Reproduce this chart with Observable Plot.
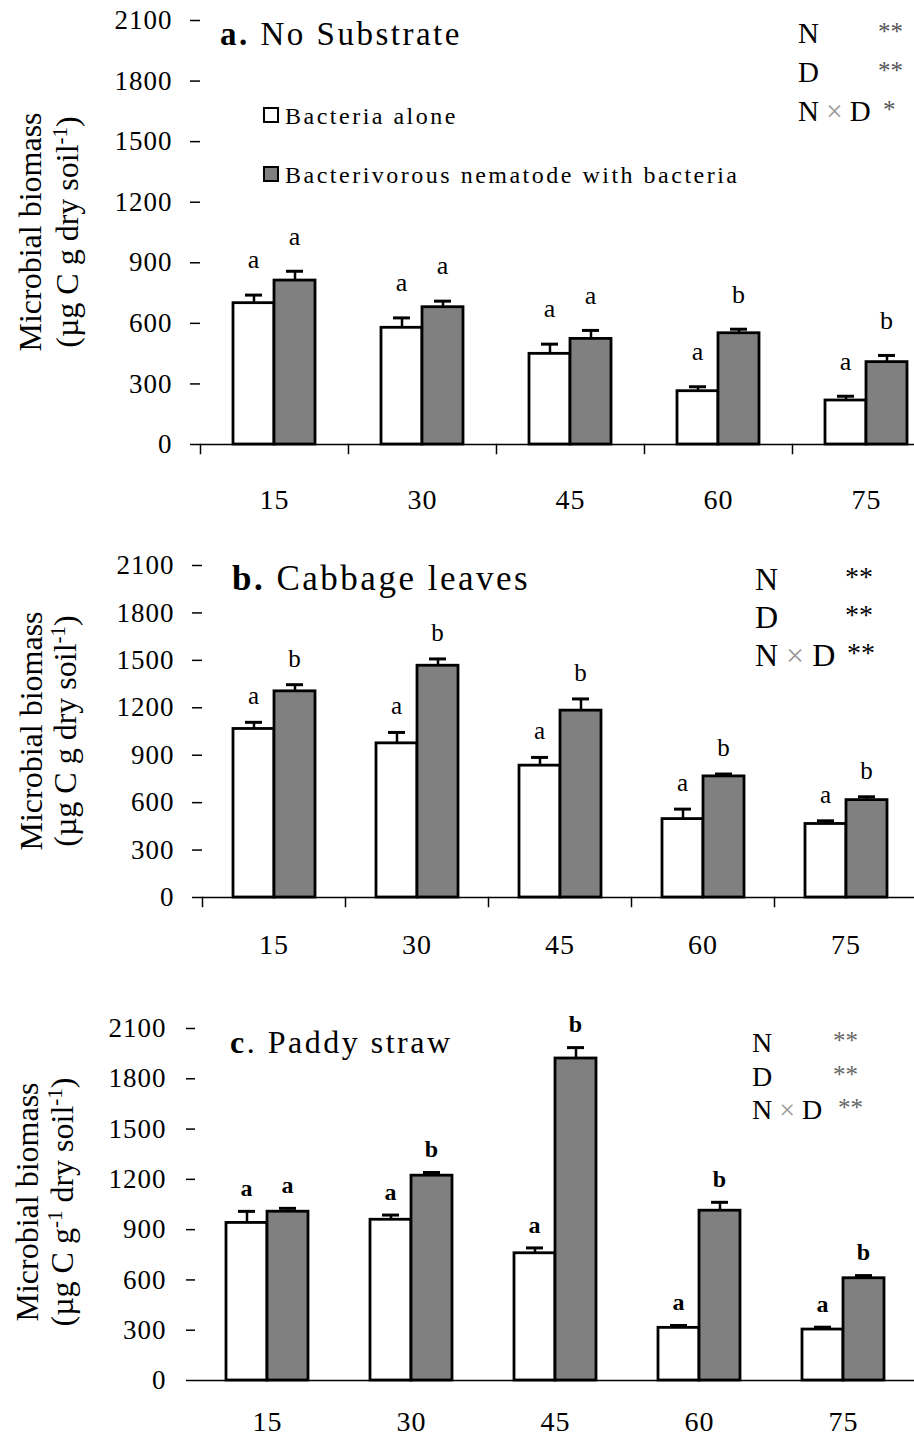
<!DOCTYPE html>
<html>
<head>
<meta charset="utf-8">
<script src="https://cdn.jsdelivr.net/npm/d3@7"></script>
<script src="https://cdn.jsdelivr.net/npm/@observablehq/plot@0.6"></script>
<style>
  html, body { margin: 0; padding: 0; background: #fff; }
  body { width: 914px; height: 1440px; position: relative; overflow: hidden; font-family: "Liberation Serif", "Times New Roman", serif; }
  .panel { position: absolute; left: 0; width: 914px; overflow: hidden; }
  .panel svg { max-width: none !important; display: block; }
</style>
</head>
<body>
<script>
// ---------- data ----------
const days = ["15", "30", "45", "60", "75"];
const seriesNames = ["Bacteria alone", "Bacterivorous nematode with bacteria"];
const seriesFill = ["#ffffff", "#808080"];
const yTicks = [0, 300, 600, 900, 1200, 1500, 1800, 2100];

// a. No Substrate
const aAlone = [700, 578, 449, 264, 218];
const aAloneErr = [40, 49, 48, 22, 21];
const aNema = [812, 680, 523, 551, 408];
const aNemaErr = [46, 30, 42, 20, 33];
const aAloneSig = ["a", "a", "a", "a", "a"];
const aNemaSig = ["a", "a", "a", "b", "b"];
const aTitle = ["a.", " No Substrate"];
const aStats = [["N", "**"], ["D", "**"], ["N × D", "*"]];

// b. Cabbage leaves
const bAlone = [1066, 975, 834, 496, 465];
const bAloneErr = [42, 69, 52, 63, 20];
const bNema = [1304, 1466, 1182, 766, 616];
const bNemaErr = [42, 43, 74, 15, 21];
const bAloneSig = ["a", "a", "a", "a", "a"];
const bNemaSig = ["b", "b", "b", "b", "b"];
const bTitle = ["b.", " Cabbage leaves"];
const bStats = [["N", "**"], ["D", "**"], ["N × D", "**"]];

// c. Paddy straw
const cAlone = [940, 959, 759, 314, 304];
const cAloneErr = [69, 28, 32, 14, 14];
const cNema = [1007, 1222, 1921, 1013, 610];
const cNemaErr = [20, 19, 65, 50, 16];
const cAloneSig = ["a", "a", "a", "a", "a"];
const cNemaSig = ["a", "b", "b", "b", "b"];
const cTitle = ["c", ". Paddy straw"];
const cStats = [["N", "**"], ["D", "**"], ["N × D", "**"]];

const yLine1 = "Microbial biomass";
const yLine2ab = [["(µg C g dry soil", false], ["-1", true], [")", false]];
const yLine2c = [["(µg C g", false], ["-1", true], [" dry soil", false], ["-1", true], [")", false]];

// ---------- plotting ----------
function buildRows(alone, aloneErr, aloneSig, nema, nemaErr, nemaSig) {
  const rows = [];
  days.forEach((d, i) => {
    rows.push({day: d, series: seriesNames[0], value: alone[i], err: aloneErr[i], sig: aloneSig[i]});
    rows.push({day: d, series: seriesNames[1], value: nema[i], err: nemaErr[i], sig: nemaSig[i]});
  });
  return rows;
}

function panel(p) {
  const rows = buildRows(p.alone, p.aloneErr, p.aloneSig, p.nema, p.nemaErr, p.nemaSig);
  const plotH = p.height - p.mt - p.mb;
  const marks = [
    Plot.ruleX(rows, {fx: "day", x: "series", y1: "value", y2: d => d.value + d.err, stroke: "#000", strokeWidth: 2.5}),
    Plot.tickY(rows, {fx: "day", x: "series", y: d => d.value + d.err, stroke: "#000", strokeWidth: 3, insetLeft: 12, insetRight: 12}),
    Plot.barY(rows, {fx: "day", x: "series", y: "value", fill: "series", stroke: "#000", strokeWidth: 2.8}),
    Plot.ruleY([0], {stroke: "#000", strokeWidth: 1.5}),
    Plot.axisY({ticks: yTicks, tickSize: p.tickSize, tickPadding: p.tickPad, strokeWidth: 1.5, line: true, label: null, fontSize: 27, tickFormat: d => String(d)}),
    Plot.text(days, {fx: d => d, text: d => d, frameAnchor: "bottom", lineAnchor: "top", dy: p.fxPad, fontSize: 28}),
    Plot.text(rows, {fx: "day", x: "series", y: d => d.value + d.err, text: "sig", dy: -p.sigOffset, fontSize: p.sigSize, fontWeight: p.sigWeight})
  ];
  if (p.boundaryTicks) {
    marks.push(Plot.frame({anchor: "left", insetTop: plotH, insetBottom: -9, stroke: "#000", strokeWidth: 1.5}));
  }
  const svg = Plot.plot({
    width: p.width,
    height: p.height,
    marginLeft: p.ml,
    marginRight: 0,
    marginTop: p.mt,
    marginBottom: p.mb,
    style: {fontFamily: "'Liberation Serif', 'Times New Roman', serif", fontSize: "27px", letterSpacing: "1px", color: "#000", background: "transparent", maxWidth: "none", overflow: "visible"},
    fx: {domain: days, padding: 0, label: null, axis: null},
    x: {domain: seriesNames, paddingInner: 0, paddingOuter: p.po, axis: null},
    y: {domain: [0, 2100], label: null},
    color: {domain: seriesNames, range: seriesFill},
    marks
  });
  const div = document.createElement("div");
  div.className = "panel";
  div.style.top = p.top + "px";
  div.style.height = p.divH + "px";
  div.appendChild(svg);
  document.body.appendChild(div);
}

panel({alone: aAlone, aloneErr: aAloneErr, aloneSig: aAloneSig, nema: aNema, nemaErr: aNemaErr, nemaSig: aNemaSig,
  top: 0, divH: 514, width: 940, height: 514, ml: 200, mt: 20, mb: 70, po: 0.8,
  tickSize: 10, tickPad: 18, fxPad: 45, sigOffset: 35, sigSize: 26, sigWeight: "normal", boundaryTicks: true});

panel({alone: bAlone, aloneErr: bAloneErr, aloneSig: bAloneSig, nema: bNema, nemaErr: bNemaErr, nemaSig: bNemaSig,
  top: 514, divH: 471, width: 918, height: 471, ml: 200, mt: 51, mb: 88, po: 0.73,
  tickSize: 10, tickPad: 18, fxPad: 37, sigOffset: 26, sigSize: 25, sigWeight: "normal", boundaryTicks: true});

panel({alone: cAlone, aloneErr: cAloneErr, aloneSig: cAloneSig, nema: cNema, nemaErr: cNemaErr, nemaSig: cNemaSig,
  top: 985, divH: 455, width: 915, height: 455, ml: 195, mt: 43, mb: 60, po: 0.73,
  tickSize: 9, tickPad: 20, fxPad: 31, sigOffset: 23, sigSize: 24, sigWeight: "bold", boundaryTicks: false});

// ---------- annotations (titles, legend, statistics, y titles) ----------
const ov = d3.select("body").append("svg")
  .attr("width", 914).attr("height", 1440)
  .style("position", "absolute").style("left", "0px").style("top", "0px")
  .style("pointer-events", "none")
  .attr("font-family", "'Liberation Serif', 'Times New Roman', serif")
  .style("white-space", "pre");

function title(x, y, size, parts) {
  const t = ov.append("text").attr("x", x).attr("y", y).attr("font-size", size).attr("letter-spacing", "2.5px");
  t.append("tspan").attr("font-weight", "bold").text(parts[0]);
  t.append("tspan").text(parts[1]);
}

function stats(rows, x, y0, step, size, starX, starSize, starFill, starDy) {
  rows.forEach((r, i) => {
    const t = ov.append("text").attr("x", x).attr("y", y0 + i * step).attr("font-size", size);
    const parts = r[0].split("×");
    if (parts.length > 1) {
      t.append("tspan").text(parts[0]);
      t.append("tspan").attr("fill", "#999").text("×");
      t.append("tspan").text(parts[1]);
    } else {
      t.text(r[0]);
    }
    ov.append("text").attr("x", starX[i]).attr("y", y0 + i * step + starDy)
      .attr("font-size", starSize).attr("fill", starFill).text(r[1]);
  });
}

function yTitle(cy, x1, x2, line2) {
  ov.append("text").attr("transform", `translate(${x1},${cy}) rotate(-90)`)
    .attr("text-anchor", "middle").attr("font-size", 32).text(yLine1);
  const t = ov.append("text").attr("transform", `translate(${x2},${cy}) rotate(-90)`)
    .attr("text-anchor", "middle").attr("font-size", 32);
  let raised = false;
  line2.forEach(([s, sup]) => {
    const sp = t.append("tspan").text(s);
    if (sup) {
      sp.attr("font-size", 21).attr("dy", raised ? 0 : -11);
      raised = true;
    } else {
      sp.attr("font-size", 32).attr("dy", raised ? 11 : 0);
      raised = false;
    }
  });
}

// panel a
title(220, 45, 33, aTitle);
stats(aStats, 798, 43, 39, 29, [878, 878, 883], 25, "#555", -3);
yTitle(232, 41, 78, yLine2ab);
// legend
const legendY = [108, 167];
seriesNames.forEach((name, i) => {
  ov.append("rect").attr("x", 264).attr("y", legendY[i]).attr("width", 14).attr("height", 14)
    .attr("fill", seriesFill[i]).attr("stroke", "#000").attr("stroke-width", 2);
  ov.append("text").attr("x", 285).attr("y", legendY[i] + 16).attr("font-size", 24)
    .attr("letter-spacing", "2.5px").text(name);
});

// panel b
title(232, 590, 35, bTitle);
stats(bStats, 755, 590, 38, 32, [845, 845, 847], 28, "#000", -4);
yTitle(731, 42, 76, yLine2ab);

// panel c
title(230, 1053, 32, cTitle);
stats(cStats, 752, 1052, 33.5, 28, [833, 833, 838], 25, "#666", -3);
yTitle(1202, 38, 73, yLine2c);
</script>
</body>
</html>
